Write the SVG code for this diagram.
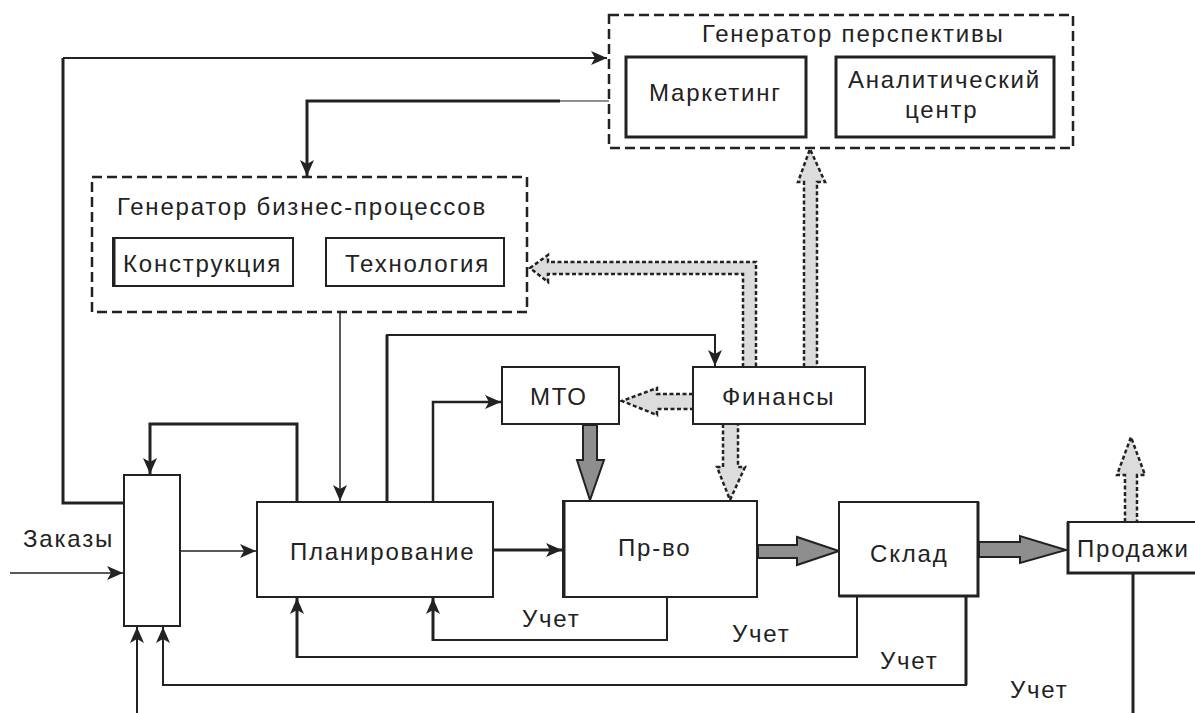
<svg xmlns="http://www.w3.org/2000/svg" width="1195" height="713" viewBox="0 0 1195 713">
<defs>
<style>
.t{font-family:"Liberation Sans",Arial,sans-serif;font-size:24px;fill:#222;letter-spacing:1.8px}
.box{fill:#fff;stroke:#222;stroke-width:2}
.thick{fill:#fff;stroke:#222;stroke-width:3}
.grp{fill:none;stroke:#222;stroke-width:2.5;stroke-dasharray:10 5}
.ln{fill:none;stroke:#222}
.dot{fill:#dcdcdc;stroke:#222;stroke-width:2.5;stroke-dasharray:4 2.5}
.gray{fill:#8e8e8e;stroke:#222;stroke-width:2}
</style>
<marker id="ah" markerUnits="userSpaceOnUse" markerWidth="18" markerHeight="16" refX="16" refY="7" orient="auto">
<path d="M0,0 L16,7 L0,14 L4,7 z" fill="#222"/>
</marker>
</defs>
<rect width="1195" height="713" fill="#fff"/>

<g id="connectors">
<path class="ln" stroke-width="3" d="M124,503 H63 V58"/>
<path class="ln" stroke-width="2" d="M63,58 H607" marker-end="url(#ah)"/>
<path class="ln" stroke-width="1.2" d="M609,101 H560"/>
<path class="ln" stroke-width="3" d="M560,101 H307 V176" marker-end="url(#ah)"/>
<path class="ln" stroke-width="3" d="M297,502 V424 H150 V474" marker-end="url(#ah)"/>
<path class="ln" stroke-width="1.5" d="M340,312 V501" marker-end="url(#ah)"/>
<path class="ln" stroke-width="3" d="M387,502 V335"/>
<path class="ln" stroke-width="2" d="M386,335 H715 V366" marker-end="url(#ah)"/>
<path class="ln" stroke-width="2.5" d="M433,502 V402 H501" marker-end="url(#ah)"/>
<path class="ln" stroke-width="1.5" d="M180,551 H256" marker-end="url(#ah)"/>
<path class="ln" stroke-width="1.5" d="M10,573 H123" marker-end="url(#ah)"/>
<path class="ln" stroke-width="3" d="M493,550 H562" marker-end="url(#ah)"/>
<path class="ln" stroke-width="2" d="M667,597 V640 H433"/>
<path class="ln" stroke-width="3" d="M433,641 V598" marker-end="url(#ah)"/>
<path class="ln" stroke-width="2" d="M857,597 V657 H297"/>
<path class="ln" stroke-width="3" d="M297,658 V598" marker-end="url(#ah)"/>
<path class="ln" stroke-width="3" d="M966,597 V685"/>
<path class="ln" stroke-width="2" d="M967,685 H163 V627" marker-end="url(#ah)"/>
<path class="ln" stroke-width="2" d="M137,713 V627" marker-end="url(#ah)"/>
<path class="ln" stroke-width="3" d="M1133,573 V713"/>

<path class="dot" d="M743,367 V274 H548 V282 L530,268 L548,255 V262 H756 V367"/>
<path class="dot" d="M804,367 V182 H798 L810,149 L825,182 H817 V367"/>
<path class="dot" d="M693,394 H657 V388 L622,401 L657,415 V409 H693"/>
<path class="dot" d="M723,424 V467 H717 L730,500 L745,467 H738 V424"/>
<path class="dot" d="M1125,522 V475 H1117 L1131,437 L1145,475 H1137 V522"/>

<path class="gray" d="M583,425 V460 H577 L590,500 L604,460 H597 V425 Z"/>
<path class="gray" d="M758,545 H797 V537 L839,551 L797,565 V558 H758 Z"/>
<path class="gray" d="M979,542 H1020 V536 L1066,550 L1020,563 V557 H979 Z"/>
</g>

<g id="gen-persp">
<rect class="grp" x="609" y="15" width="464" height="133"/>
<text class="t" x="702" y="42">Генератор перспективы</text>
</g>
<g id="marketing">
<rect class="thick" x="626" y="57" width="180" height="80"/>
<text class="t" x="649" y="101">Маркетинг</text>
</g>
<g id="analytic">
<rect class="thick" x="836" y="57" width="218" height="80"/>
<text class="t" x="848" y="88">Аналитический</text>
<text class="t" x="905" y="118">центр</text>
</g>

<g id="gen-bp">
<rect class="grp" x="92" y="177" width="435" height="135"/>
<text class="t" x="117" y="215">Генератор бизнес-процессов</text>
</g>
<g id="konstr">
<rect class="box" x="113" y="238" width="180" height="48"/>
<line x1="114" y1="238" x2="114" y2="286" stroke="#222" stroke-width="3"/>
<text class="t" x="123" y="272">Конструкция</text>
</g>
<g id="tech">
<rect class="box" x="326" y="238" width="178" height="48"/>
<text class="t" x="345" y="272">Технология</text>
</g>

<g id="mto">
<rect class="box" x="502" y="367" width="117" height="57"/>
<text class="t" x="530" y="405">МТО</text>
</g>
<g id="finance">
<rect class="box" x="693" y="367" width="172" height="57"/>
<text class="t" x="722" y="405">Финансы</text>
</g>

<g id="left-block">
<rect class="box" x="124" y="475" width="56" height="151"/>
</g>
<g id="orders">
<text class="t" x="23" y="547">Заказы</text>
</g>
<g id="planning">
<rect class="box" x="257" y="502" width="236" height="95"/>
<text class="t" x="290" y="560">Планирование</text>
</g>
<g id="production">
<rect class="box" x="563" y="501" width="194" height="96"/>
<line x1="564" y1="501" x2="564" y2="597" stroke="#222" stroke-width="3"/>
<text class="t" x="618" y="556">Пр-во</text>
</g>
<g id="warehouse">
<rect class="box" x="839" y="502" width="139" height="94"/>
<path d="M839,596 H978 V502" fill="none" stroke="#222" stroke-width="3"/>
<text class="t" x="870" y="562">Склад</text>
</g>
<g id="sales">
<rect class="box" x="1068" y="522" width="140" height="51"/>
<path d="M1068,522 V573 H1195" fill="none" stroke="#222" stroke-width="3"/>
<text class="t" x="1077" y="557">Продажи</text>
</g>

<g id="labels">
<text class="t" x="522" y="627">Учет</text>
<text class="t" x="732" y="642">Учет</text>
<text class="t" x="880" y="669">Учет</text>
<text class="t" x="1010" y="698">Учет</text>
</g>
</svg>
